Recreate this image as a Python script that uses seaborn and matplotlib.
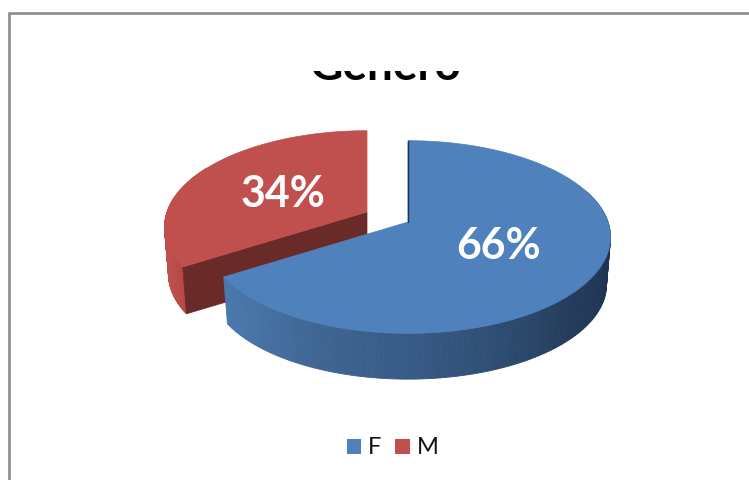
import numpy as np
import matplotlib
matplotlib.use("Agg")
import matplotlib.pyplot as plt
from matplotlib.patches import Patch, Rectangle
import seaborn as sns

# data
categories = ["F", "M"]
shares = [66, 34]
title = "Genero"

sns.set_theme(style="white")
plt.rcParams['font.family'] = ['Lato', 'DejaVu Sans']

top_colors = sns.color_palette(["#4F81BD", "#C0504D"])
blue_wall = sns.blend_palette(["#4B78AC", "#3F6592", "#375A85", "#2D4A6E", "#1E3350"], 60)
red_wall = sns.blend_palette(["#BE4F4C", "#A8413E"], 12)
red_cut = "#6A2B28"
frame_gray = "#8C8C8C"

# shape of the tilted disc, in pixels
cx, cy = 408, 222
sx, sy = 200, 94
k = 0.156
depth = 48
low = 0.98
red_shift = (-41, -10)


def project(deg, r=1.0, dx=0, dy=0, lower=False):
    t = np.radians(deg)
    u, v = r * np.sin(t), r * np.cos(t)
    d = 1 + k * v
    s = low if lower else 1.0
    return cx + dx + s * sx * u / d, cy + dy - s * sy * v / d + (depth if lower else 0)


def wall(ax, a0, a1, colors, dx=0, dy=0):
    # outer wall as thin strips, coloured by position along the front
    angles = np.linspace(a0, a1, 121)
    xs = project(angles, dx=dx, dy=dy)[0]
    for a, b in zip(angles[:-1], angles[1:]):
        x0, y0 = project(a, dx=dx, dy=dy)
        x1, y1 = project(b, dx=dx, dy=dy)
        x2, y2 = project(b, dx=dx, dy=dy, lower=True)
        x3, y3 = project(a, dx=dx, dy=dy, lower=True)
        f = (x0 - xs.min()) / (xs.max() - xs.min())
        c = colors[int(f * (len(colors) - 1))]
        ax.fill([x0, x1, x2, x3], [y0, y1, y2, y3], color=c, lw=0.6)


def face(ax, a0, a1, color, dx=0, dy=0):
    angles = np.linspace(a0, a1, 200)
    x, y = project(angles, dx=dx, dy=dy)
    ax.fill(np.r_[cx + dx, x], np.r_[cy + dy, y], color=color, lw=0.5)


fig = plt.figure(figsize=(7.49, 4.8), dpi=100)
ax = fig.add_axes([0, 0, 1, 1])
ax.set_xlim(0, 749)
ax.set_ylim(480, 0)
ax.axis("off")

# chart frame, runs off the picture right and below
ax.plot([9, 9, 749], [480, 13, 13], color=frame_gray, lw=1.9, solid_joinstyle="miter")

# slice angles, clockwise from 12 o'clock
split = 360 * shares[0] / sum(shares)

# M slice goes first, the F slice covers its inner corner
dx, dy = red_shift
wall(ax, split, 300, red_wall, dx, dy)
x0, y0 = project(split, dx=dx, dy=dy)
x1, y1 = project(split, dx=dx, dy=dy, lower=True)
ax.fill([cx + dx, x0, x1, cx + dx], [cy + dy, y0, y1, cy + dy + depth], color=red_cut, lw=0.5)
face(ax, split, 360, top_colors[1], dx, dy)

# F slice
wall(ax, 70, split, blue_wall)
tx, ty = project(0)
ax.plot([tx, cx], [ty, cy], color="#1E3350", lw=1.0)
face(ax, 0, split, top_colors[0])

# percent labels at the middle of each slice
mid_f = split / 2
mid_m = (split + 360) / 2
lx, ly = project(mid_f, r=0.5)
ax.text(lx, ly, f"{shares[0]}%", color="white", fontsize=31, fontweight="bold", ha="center", va="center")
lx, ly = project(mid_m, r=0.5, dx=dx, dy=dy)
ax.text(lx, ly + 4, f"{shares[1]}%", color="white", fontsize=31, fontweight="bold", ha="center", va="center")

# title is cut off by the plot area, only its lower part shows
t = ax.text(385.5, 80.5, title, color="black", fontsize=33, fontweight="bold", ha="center", va="baseline", clip_on=True)
t.set_clip_path(Rectangle((0, 71), 749, 409, transform=ax.transData))

handles = [Patch(facecolor=c, edgecolor="none") for c in top_colors]
ax.legend(handles, categories, ncol=2, frameon=False, fontsize=17, labelcolor="#111111",
          handlelength=0.6, handleheight=0.6, handletextpad=0.3, columnspacing=0.6,
          loc="center", bbox_to_anchor=(392.5, 448), bbox_transform=ax.transData,
          borderpad=0, borderaxespad=0)

fig.savefig("out.png", dpi=100)
